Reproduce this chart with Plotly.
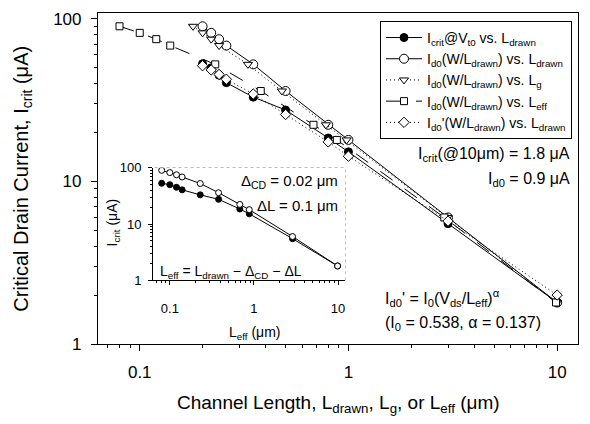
import plotly.graph_objects as go

# ---- data ----
L_drawn = [0.2, 0.22, 0.24, 0.26, 0.35, 0.5, 0.8, 1.0, 3.0, 10.0]
L_g     = [0.18, 0.2, 0.22, 0.24, 0.33, 0.48, 0.78, 0.98, 2.98, 9.98]
L_eff   = [0.08, 0.10, 0.12, 0.14, 0.23, 0.38, 0.68, 0.88, 2.88, 9.88]

I_crit  = [53, 50, 45, 40.5, 33, 27.5, 18.5, 15.2, 5.5, 1.8]
I_d0    = [90, 82, 75, 68.5, 52.5, 36, 22.3, 18, 6.0, 1.8]
I_d0p   = [51.5, 48.5, 45.5, 42.5, 34.5, 25.8, 17.5, 14.3, 5.7, 2.0]

x_tickvals = [0.1, 1, 10]
x_ticktext = ["0.1", "1", "10"]
y_tickvals = [1, 10, 100]
y_ticktext = ["1", "10", "100"]

FONT = "Liberation Sans, Arial, Helvetica, sans-serif"
BLACK = "black"
DOTTED = "1px,3px"

fig = go.Figure()

def add(x, y, name, symbol, fill, dash, size, xa="x", ya="y", legend=True):
    fig.add_trace(go.Scatter(
        x=x, y=y, name=name, mode="lines+markers", xaxis=xa, yaxis=ya,
        showlegend=legend,
        line=dict(color=BLACK, width=1, dash=dash),
        marker=dict(symbol=symbol, size=size,
                    color=BLACK if fill else "white",
                    line=dict(color=BLACK, width=1)),
    ))

add(L_drawn, I_crit, "I<sub>crit</sub>@V<sub>t0</sub> vs. L<sub>drawn</sub>", "circle", True, "solid", 8)
add(L_drawn, I_d0, "I<sub>d0</sub>(W/L<sub>drawn</sub>) vs. L<sub>drawn</sub>", "circle", False, "solid", 9)
add(L_g, I_d0, "I<sub>d0</sub>(W/L<sub>drawn</sub>) vs. L<sub>g</sub>", "triangle-down", False, DOTTED, 8)
add(L_eff, I_d0, "I<sub>d0</sub>(W/L<sub>drawn</sub>) vs. L<sub>eff</sub>", "square", False, "longdash", 7)
add(L_drawn, I_d0p, "I<sub>d0</sub>'(W/L<sub>drawn</sub>) vs. L<sub>drawn</sub>", "diamond", False, DOTTED, 8)

# inset
add(L_eff, I_crit, "inset Icrit", "circle", True, "solid", 6, "x2", "y2", False)
add(L_eff, I_d0, "inset Id0", "circle", False, "solid", 6, "x2", "y2", False)

def minor_vals(lo_exp, hi_exp):
    v = []
    for e in range(lo_exp, hi_exp + 1):
        for k in range(2, 10):
            v.append(k * 10 ** e)
    return v

axis_common = dict(type="log", showgrid=False, zeroline=False,
                   linecolor=BLACK, ticks="outside", tickcolor=BLACK,
                   tickfont=dict(family=FONT, size=17, color=BLACK))

fig.update_layout(
    width=590, height=424,
    margin=dict(l=98, r=12, t=6, b=80),
    paper_bgcolor="white", plot_bgcolor="white",
    font=dict(family=FONT, color=BLACK),
    xaxis=dict(**axis_common, range=[-1.2, 1.1], tickvals=x_tickvals, ticktext=x_ticktext,
               ticklen=6, linewidth=1.2, mirror=True, ticklabelstandoff=6,
               minor=dict(ticks="outside", ticklen=3, tickcolor=BLACK,
                          tickvals=minor_vals(-2, 1), showgrid=False)),
    yaxis=dict(**axis_common, range=[0, 2.036], tickvals=y_tickvals, ticktext=y_ticktext,
               ticklen=6, linewidth=1.2, mirror=True, ticklabelstandoff=6,
               minor=dict(ticks="outside", ticklen=3, tickcolor=BLACK,
                          tickvals=minor_vals(0, 2), showgrid=False)),
    xaxis2=dict(type="log", showgrid=False, zeroline=False, linecolor=BLACK, linewidth=1,
                ticks="outside", tickcolor=BLACK, ticklen=4,
                tickfont=dict(family=FONT, size=13, color=BLACK),
                domain=[0.1146, 0.5146], anchor="y2", range=[-1.2, 1.083],
                tickvals=x_tickvals, ticktext=x_ticktext, ticklabelstandoff=12,
                minor=dict(ticks="outside", ticklen=2, tickcolor=BLACK,
                           tickvals=minor_vals(-2, 1), showgrid=False)),
    yaxis2=dict(type="log", showgrid=False, zeroline=False, linecolor=BLACK, linewidth=1,
                ticks="outside", tickcolor=BLACK, ticklen=4,
                tickfont=dict(family=FONT, size=13, color=BLACK),
                domain=[0.1923, 0.5325], anchor="x2", range=[0, 2],
                tickvals=y_tickvals, ticktext=y_ticktext, ticklabelstandoff=4,
                minor=dict(ticks="outside", ticklen=2, tickcolor=BLACK,
                           tickvals=minor_vals(0, 1), showgrid=False)),
    legend=dict(x=0.9875, xanchor="right", y=0.976, yanchor="top",
                bgcolor="white", bordercolor=BLACK, borderwidth=1,
                font=dict(family=FONT, size=14, color=BLACK),
                itemwidth=36, tracegroupgap=0),
    showlegend=True,
)

# inset frame (top/right light border)
fig.add_shape(type="rect", xref="paper", yref="paper",
              x0=0.1146, x1=0.5146, y0=0.1923, y1=0.5325,
              line=dict(color="#888", width=1, dash="dot"), layer="below")

def ann(text, x, y, xanchor="center", size=15, angle=0, yanchor="middle"):
    fig.add_annotation(text=text, x=x, y=y, xref="paper", yref="paper",
                       xanchor=xanchor, yanchor=yanchor, showarrow=False, textangle=angle,
                       font=dict(family=FONT, size=size, color=BLACK))

# main axis titles
ann("Critical Drain Current, I<sub>crit</sub> (μA)", -0.158, 0.5, size=20, angle=-90)
ann("Channel Length, L<sub>drawn</sub>, L<sub>g</sub>, or L<sub>eff</sub> (μm)", 0.5, -0.18, size=19)

# main annotations
ann("I<sub>crit</sub>(@10μm) = 1.8 μA", 0.9875, 0.574, xanchor="right", size=16)
ann("I<sub>d0</sub> = 0.9 μA", 0.9875, 0.497, xanchor="right", size=16)
ann("I<sub>d0</sub>' = I<sub>0</sub>(V<sub>ds</sub>/L<sub>eff</sub>)<sup>α</sup>", 0.594, 0.139, xanchor="left", size=16)
ann("(I<sub>0</sub> = 0.538, α = 0.137)", 0.594, 0.062, xanchor="left", size=16)

# inset annotations
ann("Δ<sub>CD</sub> = 0.02 μm", 0.504, 0.491, xanchor="right", size=15)
ann("ΔL = 0.1 μm", 0.504, 0.417, xanchor="right", size=15)
ann("L<sub>eff</sub> = L<sub>drawn</sub> − Δ<sub>CD</sub> − ΔL", 0.125, 0.219, xanchor="left", size=14)
ann("I<sub>crit</sub> (μA)", 0.031, 0.367, size=14, angle=-90)
ann("L<sub>eff</sub> (μm)", 0.327, 0.0325, size=14)

fig.write_html("out.html")
